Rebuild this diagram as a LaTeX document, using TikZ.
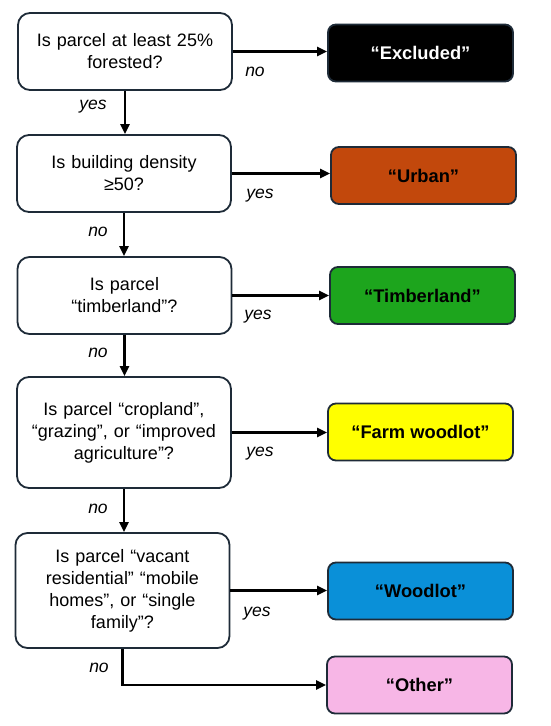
\documentclass[tikz,border=0pt]{standalone}
\usepackage{fontspec}
\setmainfont{Liberation Sans}
\usetikzlibrary{arrows.meta}
\definecolor{edgec}{HTML}{1E2B38}
\definecolor{urbanc}{HTML}{C2480C}
\definecolor{timberc}{HTML}{1DA51D}
\definecolor{farmc}{HTML}{FFFF00}
\definecolor{woodc}{HTML}{0A90D8}
\definecolor{otherc}{HTML}{F7B6E6}
\tikzset{
  qbox/.style={draw=edgec, line width=1.8pt, rounded corners=12pt, fill=white,
    minimum width=214pt, inner sep=0pt, align=center, text width=205pt,
    font=\fontsize{18}{22}\selectfont},
  obox/.style={draw=edgec, line width=1.8pt, rounded corners=8pt,
    minimum width=185pt, minimum height=57pt, inner sep=0pt,
    font=\bfseries\fontsize{18.3}{21}\selectfont},
  conn/.style={line width=2.2pt, -{Triangle[length=10pt,width=9pt]}},
  lab/.style={font=\itshape\fontsize{17.5}{20}\selectfont, inner sep=0pt}
}
\begin{document}
\begin{tikzpicture}[x=1pt,y=-1pt]
\useasboundingbox (0,0) rectangle (550,726);
\fill[white] (0,0) rectangle (550,726);
% question boxes
\node[qbox, minimum height=77pt] (b1) at (125,51.5) {Is parcel at least 25\%\\forested?};
\node[qbox, minimum height=77pt] (b2) at (124,173.5) {Is building density\\≥50?};
\node[qbox, minimum height=77pt] (b3) at (124.5,295.5) {Is parcel\\“timberland”?};
\node[qbox, minimum height=111pt] (b4) at (124,432.5) {Is parcel “cropland”,\\“grazing”, or “improved\\agriculture”?};
\node[qbox, minimum height=115pt] (b5) at (122.5,590.5) {Is parcel “vacant\\residential” “mobile\\homes”, or “single\\family”?};
% outcome boxes
\node[obox, fill=black, text=white] (ex) at (420.5,53) {“Excluded”};
\node[obox, fill=urbanc] (ur) at (423.5,175.5) {“Urban”};
\node[obox, fill=timberc] (ti) at (422.5,295.5) {“Timberland”};
\node[obox, fill=farmc] (fa) at (420.5,432) {“Farm woodlot”};
\node[obox, fill=woodc] (wo) at (420.5,591) {“Woodlot”};
\node[obox, fill=otherc] (ot) at (419.5,685) {“Other”};
% vertical connectors
\draw[conn] (b1.south) -- (b1.south |- b2.north);
\draw[conn] (b2.south) -- (b2.south |- b3.north);
\draw[conn] (b3.south) -- (b3.south |- b4.north);
\draw[conn] (b4.south) -- (b4.south |- b5.north);
% horizontal connectors
\draw[conn] (b1.east) -- (b1.east -| ex.west);
\draw[conn] (b2.east) -- (b2.east -| ur.west);
\draw[conn] (b3.east) -- (b3.east -| ti.west);
\draw[conn] (b4.east) -- (b4.east -| fa.west);
\draw[conn] (b5.east) -- (b5.east -| wo.west);
\draw[conn] (b5.south) |- (ot.west);
% labels
\node[lab] (l1) at (255,72) {no};
\node[lab] (l2) at (93,107) {yes};
\node[lab] (l3) at (260,196) {yes};
\node[lab] (l4) at (98,232) {no};
\node[lab] (l5) at (258,317) {yes};
\node[lab] (l6) at (98,353) {no};
\node[lab] (l7) at (260,454) {yes};
\node[lab] (l8) at (98,509) {no};
\node[lab] (l9) at (257,614) {yes};
\node[lab] (l10) at (99,668) {no};
\end{tikzpicture}
\end{document}
